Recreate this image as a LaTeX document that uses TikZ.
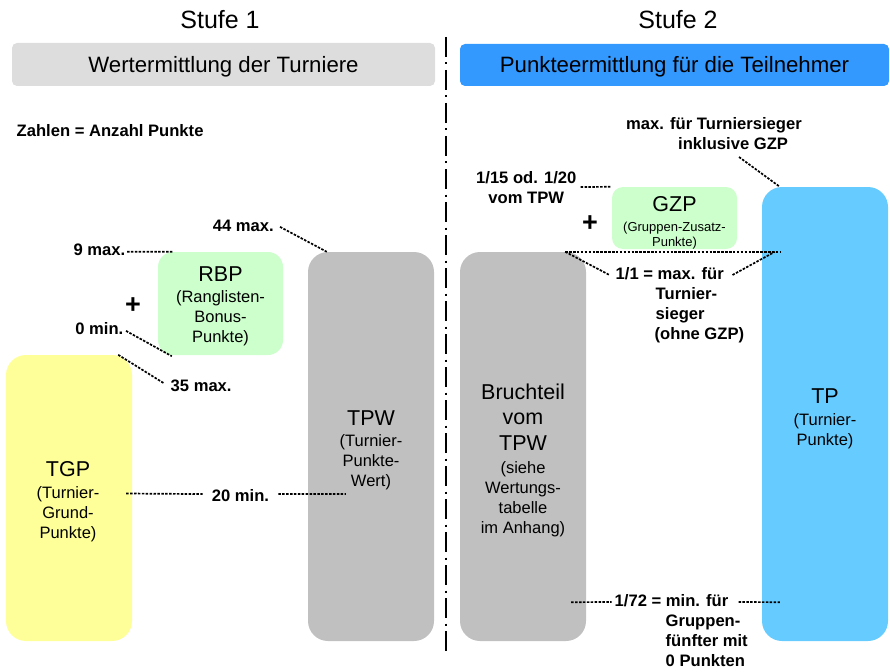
\documentclass[tikz,border=0pt]{standalone}
\usepackage{fontspec}
\setmainfont{Liberation Sans}
\usetikzlibrary{calc}

\definecolor{hdrgray}{HTML}{DDDDDD}
\definecolor{hdrblue}{HTML}{3399FF}
\definecolor{tgpyellow}{HTML}{FFFF99}
\definecolor{bonusgreen}{HTML}{CCFFCC}
\definecolor{valuegray}{HTML}{C0C0C0}
\definecolor{tpblue}{HTML}{66CCFF}

% stacked lines, aligned on the baseline of the first line
\newcommand\txtstack[2][c]{\begin{tabular}[t]{@{}#1@{}}#2\end{tabular}}
\newcommand\titlesize{\fontsize{21.5}{24}\selectfont}

\begin{document}
\begin{tikzpicture}[x=1pt,y=-1pt,
  bar/.style={inner sep=0pt, draw=none, rounded corners=20pt},
  header/.style={inner sep=0pt, rounded corners=5pt, font=\fontsize{22.2}{26}\selectfont},
  stage/.style={inner sep=0pt, anchor=base, font=\fontsize{25}{30}\selectfont},
  boxtext/.style={inner sep=0pt, anchor=base, font=\fontsize{16.5}{20}\selectfont},
  lbl/.style={inner sep=0pt, font=\fontsize{16.6}{20}\bfseries\selectfont},
  plus/.style={inner sep=0pt, font=\fontsize{27}{30}\bfseries\selectfont},
  guide/.style={line width=1.7pt, dash pattern=on 2.5pt off 1.4pt},
  divider/.style={line width=2pt, dash pattern=on 20pt off 5.5pt on 2pt off 5.5pt},
]
\useasboundingbox (0,0) rectangle (890,671);

% ---------- headings ----------
\node[stage] (st1) at (220,28.5) {Stufe 1};
\node[stage] (st2) at (678,29) {Stufe 2};
\node[header, fill=hdrgray, minimum width=423pt, minimum height=43pt,
      text height=19pt, text depth=2pt] (hdr1) at (223.5,64.5) {Wertermittlung der Turniere};
\node[header, fill=hdrblue, minimum width=429pt, minimum height=42pt,
      text height=18pt, text depth=2pt] (hdr2) at (674.5,65) {Punkteermittlung für die Teilnehmer};

% dash-dotted separator between the two stages
\draw[divider] (446,37) -- (446,655);

\node[lbl, anchor=base west] (legend) at (16.5,136.5) {Zahlen = Anzahl Punkte};

% ---------- stage 1 ----------
\node[bar, fill=tgpyellow, minimum width=126pt, minimum height=286pt] (tgp) at (69,498) {};
\node[bar, fill=bonusgreen, rounded corners=15pt, minimum width=125pt, minimum height=103pt] (rbp) at (220.5,303.5) {};
\node[bar, fill=valuegray, minimum width=126pt, minimum height=389pt] (tpw) at (371,446.5) {};

\node[boxtext] (tgptxt) at (68,476) {\txtstack{{\titlesize TGP}\\[2pt](Turnier-\\Grund-\\Punkte)}};
\node[boxtext] (rbptxt) at (220.5,281.7) {\txtstack{{\titlesize RBP}\\[0.3pt](Ranglisten-\\Bonus-\\Punkte)}};
\node[boxtext] (tpwtxt) at (371,425) {\txtstack{{\titlesize TPW}\\[1pt](Turnier-\\Punkte-\\Wert)}};

\node[plus] (plus1) at (133,306) {+};

\node[lbl, anchor=base east] (l44) at (274,231) {44 max.};
\node[lbl, anchor=base east] (l9) at (125.5,255.7) {9 max.};
\node[lbl, anchor=base east] (l0) at (123.5,334.3) {0 min.};
\node[lbl, anchor=base west] (l35) at (170.5,391.7) {35 max.};
\node[lbl, anchor=base] (l20) at (240.5,501) {20 min.};

\draw[guide] ($(l44.east)+(6,1.5)$) -- ($(tpw.north west)+(19,0)$);
\draw[guide] ($(l9.east)+(1.5,1.7)$) -- ($(rbp.north west)+(15,0)$);
\draw[guide] ($(l0.east)+(2.5,2.5)$) -- ($(rbp.south west)+(14,1)$);
\draw[guide] ($(tgp.north east)+(-14,0)$) -- ($(l35.west)+(-7,-3)$);
\draw[guide] ($(tgp.east)+(-6,-4.5)$) -- ($(l20.west)+(-9,-1)$);
\draw[guide] ($(l20.east)+(9,-1)$) -- ($(tpw.west)+(38,47.5)$);

% ---------- stage 2 ----------
\node[bar, fill=valuegray, minimum width=126pt, minimum height=389pt] (bruch) at (523,446.5) {};
\node[bar, fill=bonusgreen, rounded corners=11pt, minimum width=125pt, minimum height=62pt] (gzp) at (674.5,218) {};
\node[bar, fill=tpblue, minimum width=126pt, minimum height=454pt] (tp) at (825,414) {};

\node[boxtext] (bruchtxt) at (523,399)
  {\txtstack{{\titlesize Bruchteil}\\[5pt]{\titlesize vom}\\[5.5pt]{\titlesize TPW}\\[3pt](siehe\\Wertungs-\\tabelle\\im Anhang)}};
\node[boxtext, font=\fontsize{13}{15.6}\selectfont] (gzptxt) at (674.5,211.7)
  {\txtstack{{\titlesize GZP}\\[3.7pt](Gruppen-Zusatz-\\Punkte)}};
\node[boxtext] (tptxt) at (825,403.3) {\txtstack{{\titlesize TP}\\[1.7pt](Turnier-\\Punkte)}};

\node[plus] (plus2) at (590,224) {+};

\node[lbl, anchor=base] (l115) at (526.3,183.3) {\txtstack{1/15 od. 1/20\\vom TPW}};
\node[lbl, anchor=base west] (lmax) at (626,130) {\txtstack[l]{max. für Turniersieger\\\hspace*{52pt}inklusive GZP}};
\node[lbl, anchor=base west] (l11) at (615.5,279) {\txtstack[l]{1/1 = max. für\\\hspace*{40pt}Turnier-\\\hspace*{40pt}sieger\\\hspace*{39pt}(ohne GZP)}};
\node[lbl, anchor=base west] (l72) at (614.5,606.7) {\txtstack[l]{1/72 = min. für\\\hspace*{51pt}Gruppen-\\\hspace*{51pt}fünfter mit\\\hspace*{51pt}0 Punkten}};

\coordinate (bruchtop) at ($(bruch.north east)+(-21,0)$);
\coordinate (tpfull) at ($(tp.north west)+(18,65)$);

\draw[guide] ($(l115.base east)+(4,3.7)$) -- (gzp.north west);
\draw[guide] ($(lmax.base west)+(113,27)$) -- ($(tp.north west)+(18,0)$);
\draw[guide] (bruchtop) -- (tpfull);
\draw[guide] (bruchtop) -- ($(l11.base west)+(-6,-4)$);
\draw[guide] ($(l11.base west)+(117,-4)$) -- ($(tpfull)+(-5,0)$);
\draw[guide] ($(bruch.south east)+(-15,-39)$) -- ($(l72.base west)+(-3,-4.7)$);
\draw[guide] ($(l72.base west)+(124,-4.7)$) -- ($(tp.south west)+(18,-39)$);
\end{tikzpicture}
\end{document}
